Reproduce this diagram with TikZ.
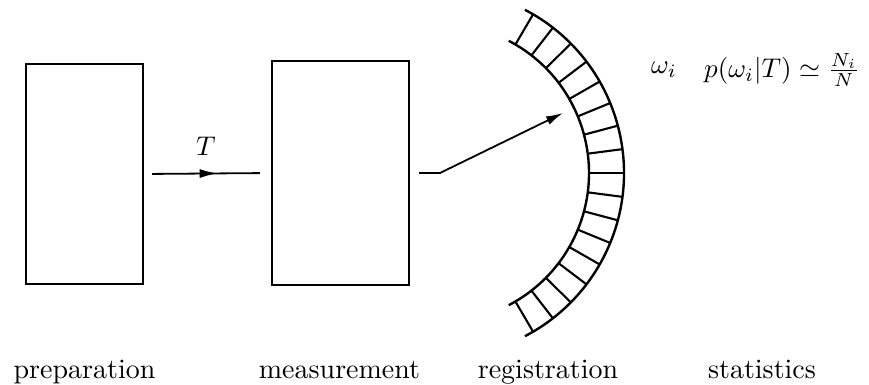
\documentclass[tikz,border=0pt]{standalone}
\usetikzlibrary{arrows.meta,decorations.markings}
\begin{document}
\begin{tikzpicture}[x=1pt,y=-1pt,
  box/.style={draw,line width=2.1pt,minimum width=#1,inner sep=0pt},
  lbl/.style={scale=2.8,anchor=base,inner sep=0pt},
  mth/.style={scale=2.7,inner sep=0pt},
  conn/.style={line width=1.8pt},
  scr/.style={line width=2.4pt}]
\useasboundingbox (0,0) rectangle (869,385);
% boxes
\node[box=117pt,minimum height=220pt] (prep) at (84.5,174) {};
\node[box=137pt,minimum height=224pt] (meas) at (340.5,173) {};
% arc centre and arrow tip
\coordinate (c) at (440,173);
\coordinate (tip) at (563,113);
% screen
\draw[scr] (c) ++(-62.5:149) arc[start angle=-62.5,end angle=62.5,radius=149];
\draw[scr] (c) ++(-62.5:184) arc[start angle=-62.5,end angle=62.5,radius=184];
\foreach \k in {-8,...,8}{
  \draw[line width=2.1pt] (c) ++({\k*7.45}:149) -- ++({\k*7.45}:35);
}
% connectors
\draw[conn,shorten <=8pt,shorten >=11pt,
  decoration={markings,mark=at position 0.58 with {\arrow{Latex[length=18pt,width=9pt]}}},
  postaction={decorate}] (prep.east) -- (meas.east -| meas.west);
\draw[conn,shorten <=9pt,-{Latex[length=17pt,width=9pt]}] (meas.east) -- (c) -- (tip);
% labels
\node[mth] (T) at (206,146) {$T$};
\node[mth] (om) at (664,70) {$\omega_i$};
\node[mth] (prob) at (782,70) {$p(\omega_i|T)\simeq\frac{N_i}{N}$};
\node[lbl] (l1) at (84.5,378) {preparation};
\node[lbl] (l2) at (339.5,378) {measurement};
\node[lbl] (l3) at (548,378) {registration};
\node[lbl] (l4) at (762,378) {statistics};
\end{tikzpicture}
\end{document}
